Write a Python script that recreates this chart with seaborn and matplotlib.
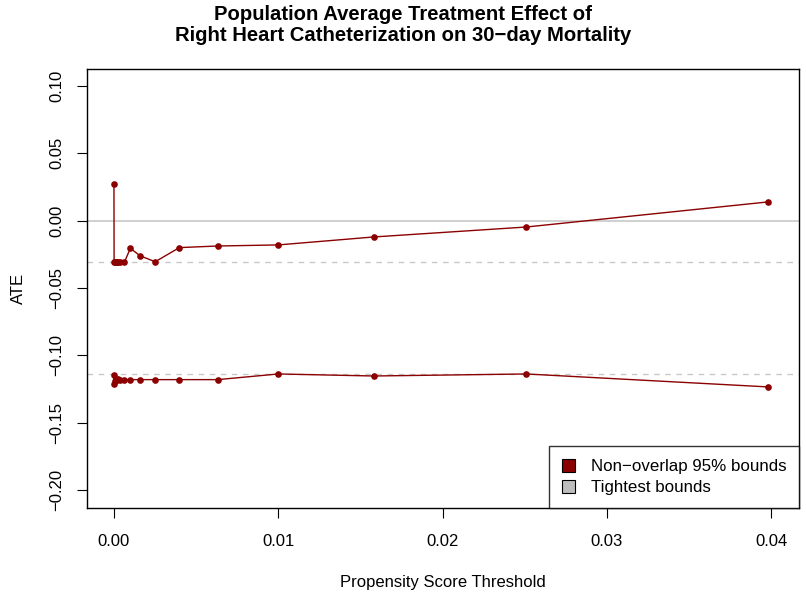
import matplotlib
matplotlib.use("Agg")
import matplotlib.pyplot as plt
import seaborn as sns
import pandas as pd
from matplotlib.patches import Patch

thresholds = [0.0, 0.00001, 0.00004, 0.0001, 0.000158, 0.000251, 0.000398, 0.000631,
              0.001, 0.00158, 0.00251, 0.00398, 0.00631, 0.01, 0.0158, 0.0251, 0.0398]
upper = [0.0272, -0.031, -0.031, -0.031, -0.031, -0.031, -0.031, -0.031,
         -0.0205, -0.026, -0.0305, -0.0200, -0.0188, -0.0180, -0.0121, -0.0047, 0.0139]
lower = [-0.1210, -0.1145, -0.1190, -0.1175, -0.1180, -0.1178, -0.1180, -0.1180,
         -0.1180, -0.1180, -0.1180, -0.1180, -0.1180, -0.1138, -0.1153, -0.1138, -0.1234]
tight_bounds = [-0.0307, -0.1138]
ref_line = 0.0
legend_labels = ["Non\u2212overlap 95% bounds", "Tightest bounds"]

sns.set_style("white")
plt.rcParams['font.family'] = ['Liberation Sans', 'DejaVu Sans']
plt.rcParams['text.color'] = 'black'
plt.rcParams['axes.labelcolor'] = 'black'
plt.rcParams['xtick.color'] = 'black'
plt.rcParams['ytick.color'] = 'black'

fig = plt.figure(figsize=(8.06, 5.98), dpi=100)
ax = fig.add_axes([87/806, 1-508/598, (799-87)/806, (508-69)/598])

ax.axhline(ref_line, color="#C8C8C8", lw=1.2, zorder=1)
for b in tight_bounds:
    ax.axhline(b, color="#C8C8C8", lw=1.0, ls=(0, (4, 4)), zorder=1)

df_u = pd.DataFrame({"x": thresholds, "y": upper})
df_l = pd.DataFrame({"x": thresholds, "y": lower})
for d in (df_u, df_l):
    sns.lineplot(data=d, x="x", y="y", ax=ax, color="#8B0000", lw=1.0,
                 marker="o", markersize=4.8, markeredgewidth=0, estimator=None,
                 sort=False, zorder=3)

ax.set_xlim(-0.00164, 0.0417)
ax.set_ylim(-0.2133, 0.1126)
ax.set_xticks([0.0, 0.01, 0.02, 0.03, 0.04])
ax.set_xticklabels(["0.00", "0.01", "0.02", "0.03", "0.04"])
ax.set_yticks([0.10, 0.05, 0.0, -0.05, -0.10, -0.15, -0.20])
ax.set_yticklabels(["0.10", "0.05", "0.00", "\u22120.05", "\u22120.10", "\u22120.15", "\u22120.20"],
                   rotation=90, va="center")
ax.tick_params(axis="both", direction="out", length=7.5, width=0.8, labelsize=12,
               bottom=True, left=True, colors="black")
ax.tick_params(axis="x", pad=11)
ax.tick_params(axis="y", pad=9)
for s in ax.spines.values():
    s.set_color("black")
    s.set_linewidth(1.0)

ax.set_xlabel("Propensity Score Threshold", fontsize=12, labelpad=19, color="black")
ax.set_ylabel("ATE", fontsize=12, labelpad=17, color="black")
fig.suptitle("Population Average Treatment Effect of\nRight Heart Catheterization on 30\u2212day Mortality",
             fontsize=14.6, fontweight="bold", y=0.992, linespacing=1.15, color="black")

handles = [Patch(facecolor="#8B0000", edgecolor="black", lw=0.8),
           Patch(facecolor="#BEBEBE", edgecolor="black", lw=0.8)]
leg = ax.legend(handles, legend_labels, loc="lower right", fontsize=12.2, frameon=True,
                fancybox=False, borderaxespad=0, handlelength=0.8, handleheight=0.8,
                handletextpad=0.9, borderpad=0.75, labelspacing=0.35)
leg.get_frame().set_edgecolor("black")
leg.get_frame().set_linewidth(1.0)
for t in leg.get_texts():
    t.set_color("black")

fig.savefig("out.png", dpi=100)
